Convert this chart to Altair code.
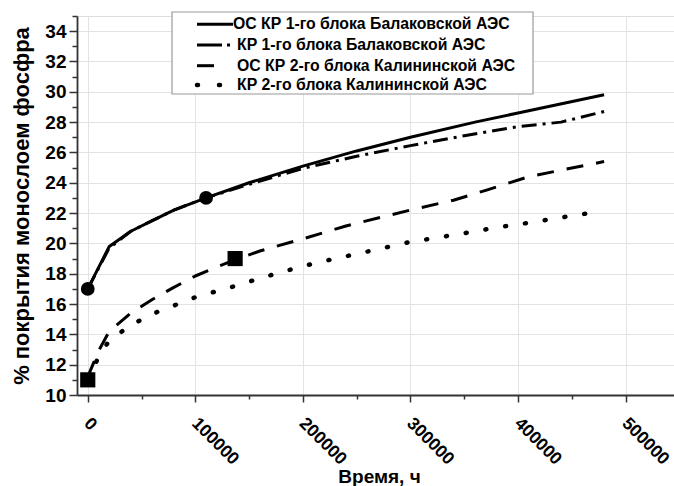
import altair as alt
import pandas as pd

# ---------------- data ----------------
series_names = [
    "ОС КР 1-го блока Балаковской АЭС",
    "КР 1-го блока Балаковской АЭС",
    "ОС КР 2-го блока Калининской АЭС",
    "КР 2-го блока Калининской АЭС",
]

bal_oc_t = [0, 20000, 40000, 60000, 80000, 110000, 150000, 200000, 250000, 300000, 360000, 400000, 480000]
bal_oc_v = [17.0, 19.8, 20.8, 21.5, 22.2, 23.0, 24.0, 25.1, 26.1, 27.0, 28.0, 28.6, 29.8]

bal_kr_t = [0, 20000, 40000, 60000, 80000, 110000, 150000, 200000, 250000, 300000, 350000, 400000, 440000, 480000]
bal_kr_v = [17.0, 19.7, 20.8, 21.5, 22.2, 23.0, 23.9, 24.95, 25.75, 26.45, 27.1, 27.7, 28.0, 28.7]

kal_oc_t = [0, 10000, 20000, 40000, 60000, 80000, 100000, 120000, 140000, 160000, 200000, 240000, 300000, 340000, 370000, 410000, 480000]
kal_oc_v = [11.2, 12.9, 14.2, 15.4, 16.3, 17.1, 17.85, 18.45, 19.0, 19.5, 20.3, 21.15, 22.2, 22.85, 23.5, 24.4, 25.4]

kal_kr_t = [0, 10000, 20000, 40000, 60000, 80000, 100000, 120000, 140000, 160000, 180000, 200000, 230000, 250000, 300000, 340000, 380000, 400000, 475000]
kal_kr_v = [11.0, 12.5, 13.6, 14.6, 15.35, 15.9, 16.45, 16.85, 17.25, 17.7, 18.1, 18.5, 19.0, 19.3, 20.1, 20.55, 21.05, 21.25, 22.1]

circle_t = [0, 110000]
circle_v = [17.0, 23.0]
square_t = [0, 137000]
square_v = [11.0, 19.0]

x_major = [0, 100000, 200000, 300000, 400000, 500000]
x_minor = [50000, 150000, 250000, 350000, 450000]
y_major = [10, 12, 14, 16, 18, 20, 22, 24, 26, 28, 30, 32, 34]
y_minor = [11, 13, 15, 17, 19, 21, 23, 25, 27, 29, 31, 33, 35]

x_title = "Время, ч"
y_title = "% покрытия монослоем фосфра"

# ---------------- styling ----------------
FONT = "Liberation Sans"
W, H = 597, 379
x_scale = alt.Scale(domain=[-10000, 545000], nice=False, zero=False)
y_scale = alt.Scale(domain=[10, 35], nice=False, zero=False)

x_axis = alt.Axis(
    title=x_title,
    orient="bottom",
    values=x_major,
    format="d",
    labelAngle=45,
    labelAlign="left",
    labelBaseline="top",
    labelPadding=12,
    labelOffset=5,
    labelFontSize=17.5,
    labelFont=FONT,
    labelFontWeight="bold",
    labelColor="black",
    labelFlush=False,
    labelOverlap=False,
    labelBound=False,
    tickSize=7,
    tickColor="#333333",
    tickWidth=1.5,
    domainColor="#333333",
    domainWidth=1.8,
    grid=True,
    gridColor="#e3e3e3",
    gridWidth=1,
    titleFont=FONT,
    titleFontSize=19,
    titleFontWeight="bold",
    titleColor="black",
    titleX=302,
    titleY=72,
    titleBaseline="top",
)
x_axis_minor = alt.Axis(
    title=None, orient="bottom", values=x_minor, labels=False, grid=False, domain=False,
    tickSize=4, tickColor="#333333", tickWidth=1.5,
)

y_axis = alt.Axis(
    title=y_title,
    orient="left",
    values=y_major,
    labelFontSize=19,
    labelFont=FONT,
    labelFontWeight="bold",
    labelColor="black",
    labelPadding=3,
    labelFlush=False,
    labelOverlap=False,
    tickSize=8,
    tickColor="#333333",
    tickWidth=1.5,
    domainColor="#333333",
    domainWidth=1.8,
    grid=True,
    gridColor="#e3e3e3",
    gridWidth=1,
    titleFont=FONT,
    titleFontSize=22,
    titleFontWeight="bold",
    titleColor="black",
    titlePadding=11,
)
y_axis_minor = alt.Axis(
    title=None, orient="left", values=y_minor, labels=False, grid=False, domain=False,
    tickSize=5, tickColor="#333333", tickWidth=1.5,
)

dashes = [None, [15, 6, 3, 6], [17, 13], [1, 19]]
widths = [3, 3, 3, 4.5]
series_data = [(bal_oc_t, bal_oc_v), (bal_kr_t, bal_kr_v), (kal_oc_t, kal_oc_v), (kal_kr_t, kal_kr_v)]

layers = []
for i, (ts, vs) in enumerate(series_data):
    df = pd.DataFrame({"t": ts, "v": vs, "series": series_names[i]})
    kw = dict(color="black", strokeWidth=widths[i], strokeJoin="round")
    if dashes[i] is not None:
        kw["strokeDash"] = dashes[i]
    if i == 3:
        kw["strokeCap"] = "round"
    layers.append(
        alt.Chart(df).mark_line(**kw).encode(
            x=alt.X("t:Q", scale=x_scale, axis=x_axis if i == 0 else None),
            y=alt.Y("v:Q", scale=y_scale, axis=y_axis if i == 0 else None),
        )
    )

# invisible layer that carries the minor-tick axes
layers.append(
    alt.Chart(pd.DataFrame({"t": bal_oc_t, "v": bal_oc_v})).mark_line(opacity=0).encode(
        x=alt.X("t:Q", scale=x_scale, axis=x_axis_minor),
        y=alt.Y("v:Q", scale=y_scale, axis=y_axis_minor),
    )
)

circ_df = pd.DataFrame({"t": circle_t, "v": circle_v})
sq_df = pd.DataFrame({"t": square_t, "v": square_v})
layers.append(
    alt.Chart(circ_df).mark_point(shape="circle", filled=True, color="black", size=190, opacity=1)
    .encode(x=alt.X("t:Q", scale=x_scale, axis=None), y=alt.Y("v:Q", scale=y_scale, axis=None))
)
layers.append(
    alt.Chart(sq_df).mark_point(shape="square", filled=True, color="black", size=230, opacity=1)
    .encode(x=alt.X("t:Q", scale=x_scale, axis=None), y=alt.Y("v:Q", scale=y_scale, axis=None))
)

# ---------------- legend (drawn manually, pixel offsets relative to plot area) ----------------
LX0, LX1, LY0, LY1 = 95, 456, -4, 78
one = pd.DataFrame({"a": [0]})
layers.append(
    alt.Chart(one).mark_rect(fill="white", stroke="#9a9a9a", strokeWidth=1.2)
    .encode(x=alt.value(LX0), x2=alt.value(LX1), y=alt.value(LY0), y2=alt.value(LY1))
)
row_y = [8.3, 29, 49.7, 69]
sample_x0 = 120
sample_x1 = [156, 155, 137, 143]
sample_dash = [None, [25, 5, 3, 100], None, [1, 21]]
text_x = [156, 160, 160, 160]
for i in range(4):
    kw = dict(color="black", strokeWidth=widths[i])
    if sample_dash[i] is not None:
        kw["strokeDash"] = sample_dash[i]
    if i == 3:
        kw["strokeCap"] = "round"
    layers.append(
        alt.Chart(one).mark_rule(**kw)
        .encode(x=alt.value(sample_x0), x2=alt.value(sample_x1[i]), y=alt.value(row_y[i]))
    )
    layers.append(
        alt.Chart(pd.DataFrame({"label": [series_names[i]]}))
        .mark_text(align="left", baseline="middle", font=FONT, fontSize=15.8, fontWeight="bold", color="black")
        .encode(x=alt.value(text_x[i]), y=alt.value(row_y[i]), text="label:N")
    )

chart = (
    alt.layer(*layers)
    .resolve_scale(x="shared", y="shared")
    .resolve_axis(x="independent", y="independent")
    .properties(
        width=W,
        height=H,
        autosize=alt.AutoSizeParams(type="none"),
        padding={"left": 77, "top": 16, "right": 0, "bottom": 91},
    )
    .configure_view(stroke=None)
    .configure(background="white")
)

chart.save("out.html", embed_options={"renderer": "svg", "actions": False})
